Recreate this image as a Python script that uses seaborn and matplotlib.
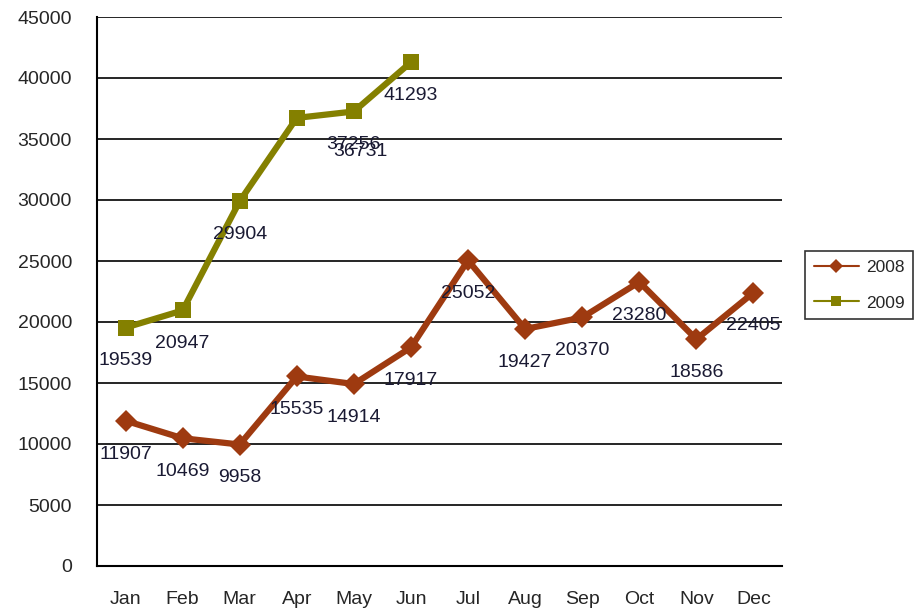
import pandas as pd
import seaborn as sns
import matplotlib.pyplot as plt
import numpy as np

months = ['Jan', 'Feb', 'Mar', 'Apr', 'May', 'Jun', 'Jul', 'Aug', 'Sep', 'Oct', 'Nov', 'Dec']
sales_2008 = [11907, 10469, 9958, 15535, 14914, 17917, 25052, 19427, 20370, 23280, 18586, 22405]
sales_2009 = [19539, 20947, 29904, 36731, 37256, 41293]

if __name__ == '__main__':
    sns.set_style('white')
    plt.rcParams['font.family'] = ['Liberation Sans', 'DejaVu Sans']
    plt.rcParams['font.size'] = 14

    df = pd.concat([
        pd.DataFrame({'month': months, 'idx': range(12), 'value': sales_2008, 'year': '2008'}),
        pd.DataFrame({'month': months[:6], 'idx': range(6), 'value': sales_2009, 'year': '2009'}),
    ], ignore_index=True)

    colors = {'2008': '#9E3A10', '2009': '#848000'}
    markers = {'2008': 'D', '2009': 's'}

    fig = plt.figure(figsize=(9.2, 6.1), dpi=100)
    ax = fig.add_axes([97/920, 1-566/610, 685/920, 549/610])
    sns.lineplot(data=df, x='idx', y='value', hue='year', style='year',
                 palette=colors, markers=markers, dashes=False,
                 linewidth=4.5, markersize=11, markeredgewidth=0, ax=ax)

    # data labels below points (Excel style)
    for yr, vals in [('2008', sales_2008), ('2009', sales_2009)]:
        for i, v in enumerate(vals):
            dx = 0
            if yr == '2009' and i == 3:
                dx = 46
            ax.annotate(str(v), (i, v), xytext=(dx, -24), textcoords='offset points',
                        ha='center', va='center', color='#1a1a33', fontsize=14)

    ax.set_xlim(-0.5, 11.5)
    ax.set_ylim(0, 45000)
    ax.set_xticks(range(12))
    ax.set_xticklabels(months)
    ax.set_xticks(np.arange(-0.5, 12, 1), minor=True)
    ax.tick_params(axis='x', which='major', length=0, pad=18)
    ax.tick_params(axis='x', which='minor', length=6, width=1.5, direction='out', color='black')
    ax.set_yticks(range(0, 45001, 5000))
    ax.tick_params(axis='y', length=6, width=1.5, direction='out', color='black', pad=12)
    ax.yaxis.grid(True, color='black', linewidth=1.2)
    ax.set_axisbelow(True)
    for s in ['top', 'right']:
        ax.spines[s].set_visible(False)
    for s in ['left', 'bottom']:
        ax.spines[s].set_color('black')
        ax.spines[s].set_linewidth(1.5)
    ax.set_xlabel(None)
    ax.set_ylabel(None)

    h, l = ax.get_legend_handles_labels()
    for hh in h:
        hh.set_linewidth(1.5)
        hh.set_markersize(7)
    leg = ax.legend(h, l, loc='center left', bbox_to_anchor=(805/920, 1-285/610),
                    bbox_transform=fig.transFigure, frameon=True, fancybox=False,
                    edgecolor='black', fontsize=12.5, handlelength=2.6, labelspacing=1.2,
                    borderaxespad=0, handletextpad=0.4, borderpad=0.5)
    leg.get_frame().set_linewidth(1.2)

    plt.savefig('out.png', dpi=100)
